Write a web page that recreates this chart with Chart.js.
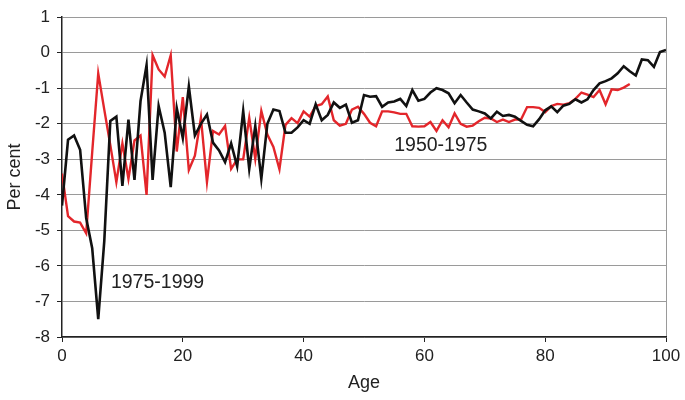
<!DOCTYPE html>
<html>
<head>
<meta charset="utf-8">
<script src="https://cdn.jsdelivr.net/npm/chart.js@4.4.0/dist/chart.umd.min.js"></script>
<style>
  html, body { margin: 0; padding: 0; background: #fff; }
  #wrap { width: 685px; height: 400px; }
</style>
</head>
<body>
<div id="wrap"><canvas id="chart" width="685" height="400"></canvas></div>
<script>
// values by age, one per year starting at age 0
const period1975 = [ // black line
  -4.3, -2.45, -2.33, -2.73, -4.65, -5.5, -7.5, -5.3, -1.92, -1.8,
  -3.75, -1.88, -3.58, -1.36, -0.35, -3.58, -1.5, -2.25, -3.78, -1.56,
  -2.4, -0.95, -2.33, -2.0, -1.74, -2.53, -2.75, -3.08, -2.55, -3.2,
  -1.64, -3.27, -2.06, -3.55, -2.0, -1.6, -1.64, -2.25, -2.25, -2.1,
  -1.9, -2.0, -1.45, -1.9, -1.75, -1.4, -1.55, -1.46, -1.97, -1.9,
  -1.19, -1.24, -1.22, -1.52, -1.4, -1.37, -1.3, -1.5, -1.05, -1.35,
  -1.3, -1.12, -1.0, -1.05, -1.14, -1.42, -1.19, -1.4, -1.6, -1.65,
  -1.71, -1.85, -1.66, -1.78, -1.75, -1.8, -1.92, -2.03, -2.07, -1.87,
  -1.62, -1.51, -1.67, -1.49, -1.44, -1.31, -1.4, -1.31, -1.05, -0.86,
  -0.8, -0.72, -0.58, -0.38, -0.52, -0.64, -0.19, -0.21, -0.4, 0.02,
  0.08
];
const period1950 = [ // red line
  -3.4, -4.6, -4.75, -4.78, -5.08, -2.8, -0.58, -1.6, -2.6, -3.64,
  -2.55, -3.55, -2.47, -2.33, -4.0, -0.07, -0.47, -0.67, -0.07, -2.78,
  -1.25, -3.3, -2.9, -1.83, -3.64, -2.2, -2.3, -2.06, -3.27, -3.0,
  -3.0, -1.83, -2.99, -1.64, -2.3, -2.65, -3.28, -2.03, -1.84, -1.98,
  -1.65, -1.8, -1.5, -1.45, -1.23, -1.9, -2.05, -2.0, -1.6, -1.52,
  -1.72, -1.97, -2.07, -1.65, -1.65, -1.68, -1.72, -1.72, -2.07, -2.08,
  -2.07, -1.95, -2.2, -1.9, -2.1, -1.71, -2.0, -2.08, -2.05, -1.93,
  -1.83, -1.85, -1.95, -1.88, -1.95, -1.88, -1.88, -1.53, -1.53, -1.55,
  -1.67, -1.5, -1.44, -1.46, -1.42, -1.3, -1.12, -1.18, -1.25, -1.05,
  -1.45, -1.03, -1.05, -0.98, -0.88
];
const xTicks = [0, 20, 40, 60, 80, 100];
const yTicks = [1, 0, -1, -2, -3, -4, -5, -6, -7, -8];

// text labels placed in data units
const notes = [
  { text: '1975-1999', x: 8.1, y: -6.47 },
  { text: '1950-1975', x: 55.0, y: -2.61 }
];

const FONT = 'Liberation Sans, Arial, sans-serif';

function toPoints(values) {
  return values.map((v, i) => ({ x: i, y: v }));
}

// draws the period names on top of the plot
const notesPlugin = {
  id: 'notes',
  afterDatasetsDraw(chart) {
    const ctx = chart.ctx;
    const xs = chart.scales.x, ys = chart.scales.y;
    ctx.save();
    ctx.font = '19.5px ' + FONT;
    ctx.fillStyle = '#222';
    ctx.textAlign = 'left';
    ctx.textBaseline = 'middle';
    notes.forEach(n => {
      ctx.fillText(n.text, xs.getPixelForValue(n.x), ys.getPixelForValue(n.y));
    });
    ctx.restore();
  }
};

new Chart(document.getElementById('chart'), {
  type: 'line',
  data: {
    datasets: [
      {
        label: '1975-1999',
        data: toPoints(period1975),
        borderColor: '#111111',
        borderWidth: 2.6,
        pointRadius: 0,
        tension: 0,
        order: 0
      },
      {
        label: '1950-1975',
        data: toPoints(period1950),
        borderColor: '#e3262b',
        borderWidth: 2.4,
        pointRadius: 0,
        tension: 0,
        order: 1
      }
    ]
  },
  options: {
    responsive: false,
    animation: false,
    layout: { padding: { top: 13, right: 19, left: 0, bottom: 0 } },
    plugins: {
      legend: { display: false },
      tooltip: { enabled: false }
    },
    scales: {
      x: {
        type: 'linear',
        min: 0,
        max: 100,
        afterBuildTicks: s => { s.ticks = xTicks.map(v => ({ value: v })); },
        afterFit: s => { s.height = 63; },
        ticks: { font: { size: 17, family: FONT }, color: '#222', padding: 4, maxRotation: 0 },
        grid: {
          color: c => (c.tick && c.tick.value === 100 ? '#9a9a9a' : 'rgba(0,0,0,0)'),
          tickColor: '#222',
          tickLength: 5,
          lineWidth: 1
        },
        border: { color: '#222', width: 1.5 },
        title: { display: true, text: 'Age', font: { size: 18, family: FONT }, color: '#222', padding: { top: 4, bottom: 6 } }
      },
      y: {
        min: -8,
        max: 1,
        afterBuildTicks: s => { s.ticks = yTicks.map(v => ({ value: v })); },
        afterFit: s => { s.width = 62; },
        ticks: { font: { size: 17, family: FONT }, color: '#222', padding: 7 },
        grid: {
          color: '#9a9a9a',
          tickColor: '#222',
          tickLength: 5,
          lineWidth: 1
        },
        border: { color: '#222', width: 1.5 },
        title: { display: true, text: 'Per cent', font: { size: 18, family: FONT }, color: '#222', padding: { top: 4, bottom: 4 } }
      }
    }
  },
  plugins: [notesPlugin]
});
</script>
</body>
</html>
